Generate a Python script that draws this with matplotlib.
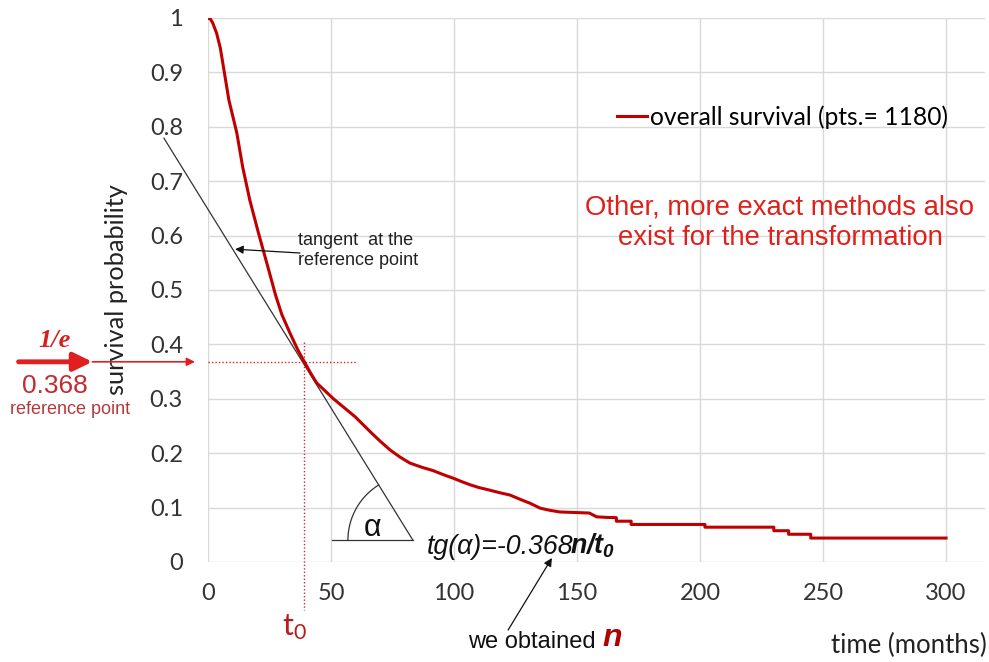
import numpy as np
import matplotlib.pyplot as plt

# overall survival curve (months, survival probability)
time_months = [0, 1, 2, 3.5, 5, 8.5, 11.7, 14.1, 17, 20.5, 24.3, 27.5, 30, 33.3, 36.5, 39.4,
               42, 44.2, 47.5, 51, 55, 59.8, 66.5, 70, 74, 78, 82, 87, 91.5, 96, 99.7, 103,
               106.5, 110, 114.6, 118, 122.8, 127, 130.9, 135, 139, 143, 149, 155, 158, 162,
               166, 166, 172, 172, 202, 202, 230, 230, 236, 236, 245, 245, 300]
survival = [1.0, 0.998, 0.99, 0.972, 0.945, 0.849, 0.789, 0.726, 0.665, 0.605, 0.543, 0.49, 0.455, 0.421, 0.39, 0.366,
            0.345, 0.329, 0.315, 0.300, 0.285, 0.267, 0.237, 0.222, 0.206, 0.193, 0.182, 0.174, 0.168, 0.160, 0.154, 0.148,
            0.142, 0.137, 0.132, 0.128, 0.123, 0.115, 0.108, 0.099, 0.095, 0.092, 0.091, 0.090, 0.083, 0.082,
            0.0815, 0.075, 0.075, 0.069, 0.069, 0.064, 0.064, 0.0575, 0.0575, 0.051, 0.051, 0.044, 0.044]

x_ticks = [0, 50, 100, 150, 200, 250, 300]
y_ticks = [0, 0.1, 0.2, 0.3, 0.4, 0.5, 0.6, 0.7, 0.8, 0.9, 1]
y_tick_labels = ['0', '0.1', '0.2', '0.3', '0.4', '0.5', '0.6', '0.7', '0.8', '0.9', '1']

# reference point (1/e) and the tangent drawn through it
t0 = 39
s_ref = 0.368
tangent_t = [-17.9, 83.3]
tangent_s = [0.779, 0.040]

plt.rcParams['font.family'] = ['Lato', 'DejaVu Sans']
plt.rcParams['mathtext.fontset'] = 'custom'
plt.rcParams['mathtext.rm'] = 'Liberation Sans'
plt.rcParams['mathtext.it'] = 'Liberation Sans:italic'
plt.rcParams['mathtext.bf'] = 'Liberation Sans:italic:bold'

W, H = 989, 662
fig = plt.figure(figsize=(W / 100, H / 100), dpi=100)
ax = fig.add_axes([208 / W, 100 / H, 777.4 / W, 544 / H])

ax.plot(time_months, survival, color='#c00000', lw=2.2, zorder=3,
        label='overall survival (pts.= 1180)')
ax.set_xlim(0, 316)
ax.set_ylim(0, 1)
ax.set_xticks(x_ticks)
ax.set_yticks(y_ticks)
ax.set_yticklabels(y_tick_labels)
ax.grid(color='#d9d9d9', lw=1)
ax.set_axisbelow(True)
for sp in ax.spines.values():
    sp.set_visible(False)
ax.tick_params(length=0, labelsize=17, labelcolor='#333333')
ax.tick_params(axis='y', pad=18)
ax.tick_params(axis='x', pad=15)

ax.set_ylabel('survival probability', fontsize=18.3, color='#222222', va='center')
ax.yaxis.set_label_coords((117 - 208) / 777.4, 0.5)
ax.set_xlabel('time (months)', fontsize=18.5, color='#222222', ha='right', va='center')
ax.xaxis.set_label_coords((987 - 208) / 777.4, (562 - 645) / 544)

ax.legend(loc='center left', bbox_to_anchor=(617 / W, 1 - 117 / H), bbox_transform=fig.transFigure,
          frameon=False, fontsize=17.7, handlelength=1.22, handletextpad=0.12,
          borderpad=0, borderaxespad=0)

# tangent line, horizontal leg and the angle arc
ax.plot(tangent_t, tangent_s, color='#333333', lw=0.9, clip_on=False)
ax.plot([50.4, tangent_t[1]], [tangent_s[1], tangent_s[1]], color='#333333', lw=0.9)
p0 = ax.transData.transform((tangent_t[1], tangent_s[1]))
p1 = ax.transData.transform((tangent_t[0], tangent_s[0]))
ang = np.arctan2(p1[1] - p0[1], p1[0] - p0[0])
theta = np.linspace(ang, np.pi, 50)
r = 65
arc = ax.transData.inverted().transform(np.column_stack([p0[0] + r * np.cos(theta),
                                                         p0[1] + r * np.sin(theta)]))
ax.plot(arc[:, 0], arc[:, 1], color='#333333', lw=0.9)
ax.text(67, 0.0625, 'α', fontsize=22, family='Liberation Sans', ha='center', va='center', color='#111111')

# red dotted guides through the reference point
red = '#e02020'
ax.plot([0, 60.6], [s_ref, s_ref], color=red, lw=1, ls=(0, (1, 1.5)))
ax.plot([t0, t0], [0.404, -0.088], color='#c83030', lw=1, ls=(0, (1, 1.5)), clip_on=False)

ax.annotate('', xy=(-5.3, s_ref), xytext=(-47, s_ref), annotation_clip=False,
            arrowprops=dict(arrowstyle='-|>', color=red, lw=1.2, shrinkA=0, shrinkB=0, mutation_scale=12))
ax.annotate('', xy=(-47, s_ref), xytext=(-77, s_ref), annotation_clip=False,
            arrowprops=dict(arrowstyle='-|>,head_length=0.45,head_width=0.22', color=red, lw=3.5,
                            shrinkA=0, shrinkB=0, mutation_scale=25))

ax.text(-62.2, 0.408, '1/e', family='Liberation Serif', weight='bold', style='italic',
        fontsize=19, color='#d42020', ha='center', va='center')
ax.text(-62.2, 0.324, '0.368', family='Liberation Sans', fontsize=19, color='#c42b30',
        ha='center', va='center')
ax.text(-56.1, 0.281, 'reference point', family='Liberation Sans', fontsize=13, color='#b33a3a',
        ha='center', va='center')
ax.text(35, -0.12, r'$\mathregular{t_0}$', fontsize=22, color='#b71c1c', ha='center', va='center')

# tangent label
ax.annotate('', xy=(11, 0.575), xytext=(37.4, 0.568),
            arrowprops=dict(arrowstyle='-|>', color='#111111', lw=0.9, shrinkA=0, shrinkB=0, mutation_scale=12))
ax.text(36.6, 0.572, 'tangent  at the\nreference point', family='Liberation Sans', fontsize=13,
        color='#222222', ha='left', va='center', linespacing=1.25)

# slope formula
t1 = ax.text(89, 0.0276, 'tg(α)=-0.368', family='Liberation Sans', style='italic', fontsize=19.3,
             color='#111111', ha='left', va='center')
ax.annotate(r'$\mathbf{n/t_0}$', xy=(1, 0), xycoords=t1, xytext=(-2.5, 0), textcoords='offset points',
            fontsize=19.3, color='#111111', ha='left', va='bottom')

# "we obtained n"
ax.annotate('', xy=(139.8, 0.0074), xytext=(122, -0.125), annotation_clip=False,
            arrowprops=dict(arrowstyle='-|>', color='#111111', lw=0.9, shrinkA=0, shrinkB=0, mutation_scale=12))
t2 = ax.text(105.7, -0.158, 'we obtained ', family='Liberation Sans', fontsize=17,
             color='#111111', ha='left', va='baseline')
ax.annotate('n', xy=(1, 0), xycoords=t2, family='Liberation Sans', weight='bold', style='italic',
            fontsize=23, color='#b00000', ha='left', va='bottom')

ax.text(232.5, 0.624, 'Other, more exact methods also\nexist for the transformation',
        family='Liberation Sans', fontsize=19.8, color='#e0201b', ha='center', va='center',
        linespacing=1.25)

fig.savefig('out.png', dpi=100)
